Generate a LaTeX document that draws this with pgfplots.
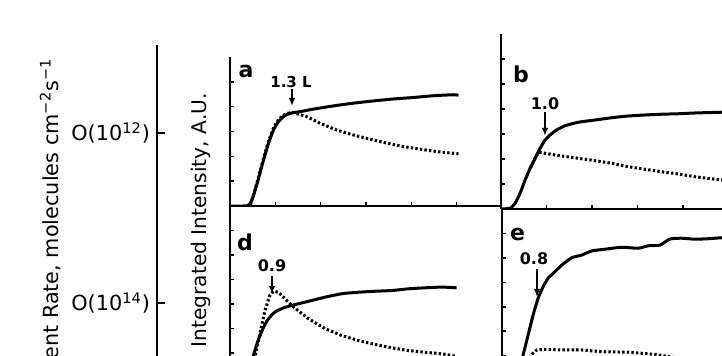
\documentclass[border=0pt]{standalone}
\usepackage{fontspec}
\setmainfont{DejaVu Sans}
\setsansfont{DejaVu Sans}
\usepackage{pgfplots}
\pgfplotsset{compat=1.18}
\usetikzlibrary{arrows.meta}
\pgfplotsset{
  panel/.style={scale only axis, anchor=south west, xmin=0, xmax=6, ymin=0,
    axis x line=bottom, axis y line=left, axis line style={-, line width=1.15pt},
    tick align=inside, major tick length=2pt, tick style={line width=0.8pt, black},
    xticklabels={}, yticklabels={}},
  solidc/.style={black, line width=1.5pt, smooth, tension=0.35, no marks},
  dotc/.style={black, line width=1.5pt, dash pattern=on 1.2pt off 1.1pt, no marks},
}
\begin{document}
\begin{tikzpicture}[x=1pt,y=1pt]
\useasboundingbox (0,0) rectangle (361,178);
\clip (0,0) rectangle (361,178);

% rate axis
\begin{axis}[scale only axis, width=1pt, height=180.5pt, at={(78.5pt,-25pt)}, anchor=south west,
  xmin=0, xmax=1, ymin=-50, ymax=311, axis x line=none, axis y line=left,
  axis line style={-, line width=1.3pt}, ytick={53,223},
  yticklabels={O(10\textsuperscript{14}),O(10\textsuperscript{12})},
  tick align=inside, major tick length=4pt, tick style={line width=1pt, black},
  yticklabel style={font=\fontsize{10.4}{12}\selectfont}]
\addplot[draw=none] coordinates {(0,0)};
\end{axis}

% panel a
\begin{axis}[panel, width=136pt, height=74.5pt, ymax=6, at={(115pt,75pt)},
  xtick={1,...,5}, ytick={1,...,5}]
\addplot[dotc] coordinates {(0.45,0.05) (0.51,0.40) (0.62,1.1) (0.74,1.92) (0.85,2.62) (0.96,3.15) (1.07,3.48) (1.18,3.66) (1.29,3.74) (1.40,3.76) (1.69,3.60) (1.99,3.33) (2.35,3.06) (2.72,2.86) (3.09,2.69) (3.46,2.53) (3.83,2.39) (4.19,2.29) (4.56,2.19) (5.04,2.10)};
\addplot[solidc] coordinates {(0,0) (0.40,0.02) (0.51,0.38) (0.62,1.05) (0.74,1.85) (0.85,2.53) (0.96,3.06) (1.07,3.40) (1.18,3.60) (1.29,3.71) (1.40,3.76) (1.55,3.80) (1.84,3.90) (2.28,4.03) (2.72,4.14) (3.16,4.23) (3.61,4.31) (4.05,4.37) (4.49,4.44) (4.93,4.48) (5.04,4.46)};
\end{axis}

% panel d
\begin{axis}[panel, width=136pt, height=85.75pt, ymax=7, at={(115pt,-10.75pt)},
  xtick={1,...,5}, ytick={1,...,6}]
\addplot[dotc] coordinates {(0.44,0) (0.55,0.86) (0.66,1.78) (0.77,2.73) (0.88,3.35) (0.96,3.52) (1.07,3.48) (1.36,2.94) (1.73,2.40) (2.10,1.99) (2.47,1.71) (2.83,1.51) (3.20,1.35) (3.57,1.21) (3.94,1.10) (4.30,1.03) (4.67,0.97) (5.00,0.86)};
\addplot[solidc] coordinates {(0,0) (0.38,0) (0.51,0.86) (0.62,1.51) (0.74,2.05) (0.85,2.40) (0.99,2.67) (1.18,2.84) (1.36,2.94) (1.73,3.11) (2.10,3.28) (2.47,3.42) (2.83,3.48) (3.20,3.52) (3.57,3.55) (3.94,3.62) (4.30,3.66) (4.67,3.69) (5.00,3.66)};
\end{axis}

% panel b
\begin{axis}[panel, width=136.5pt, height=87.5pt, ymax=7, at={(250.5pt,73.5pt)},
  xtick={1,...,6}, ytick={1,...,6}]
\addplot[dotc] coordinates {(0.64,1.63) (0.75,2.03) (0.82,2.25) (0.89,2.25) (1.33,2.12) (1.70,2.03) (2.07,1.93) (2.43,1.83) (2.80,1.69) (3.16,1.59) (3.53,1.49) (3.90,1.40) (4.26,1.29) (4.85,1.16) (5.2,1.10)};
\addplot[solidc] coordinates {(0,0) (0.20,0.03) (0.31,0.23) (0.42,0.63) (0.53,1.16) (0.64,1.63) (0.75,2.03) (0.86,2.43) (0.97,2.76) (1.08,2.96) (1.22,3.16) (1.41,3.33) (1.70,3.47) (2.07,3.56) (2.43,3.65) (2.80,3.72) (3.16,3.76) (3.53,3.79) (3.90,3.81) (4.26,3.84) (4.85,3.87) (5.2,3.88)};
\end{axis}

% panel e
\begin{axis}[panel, width=136.5pt, height=85.4pt, ymax=7, at={(250.85pt,-12pt)},
  xtick={1,...,6}, ytick={1,...,6}]
\addplot[dotc] coordinates {(0.45,0) (0.58,0.75) (0.66,1.05) (0.77,1.23) (0.95,1.26) (1.32,1.23) (1.76,1.23) (2.20,1.16) (2.78,1.14) (3.37,1.05) (3.8,0.92) (4.3,0.8) (4.85,0.7)};
\addplot[solidc] coordinates {(0,0) (0.33,0) (0.47,1.02) (0.58,1.84) (0.69,2.66) (0.80,3.35) (0.91,3.82) (1.02,4.17) (1.17,4.44) (1.32,4.71) (1.54,5.01) (1.76,5.12) (1.98,5.29) (2.27,5.36) (2.64,5.44) (3.00,5.40) (3.22,5.50) (3.48,5.53) (3.70,5.78) (3.96,5.81) (4.25,5.77) (4.54,5.79) (4.84,5.83) (5.2,5.83)};
\end{axis}

% axis titles
\node[rotate=90, anchor=base east, inner sep=0pt, font=\fontsize{10.4}{12}\selectfont] at (29,149)
  {Displacement Rate, molecules cm\textsuperscript{−2}s\textsuperscript{−1}};
\node[rotate=90, anchor=base east, inner sep=0pt, font=\fontsize{10.1}{12}\selectfont] at (103,131.5)
  {Integrated Intensity, A.U.};

% panel letters
\node[font=\fontsize{11}{13}\selectfont\bfseries] at (123,142) {a};
\node[font=\fontsize{11}{13}\selectfont\bfseries] at (260.5,141) {b};
\node[font=\fontsize{11}{13}\selectfont\bfseries] at (122.5,57) {d};
\node[font=\fontsize{11}{13}\selectfont\bfseries] at (258.75,60.5) {e};

% arrows
\tikzset{arr/.style={-{Latex[length=4pt,width=3.2pt]}, line width=0.8pt}}
\draw[arr] (146,133.5) -- (146,125);
\node[font=\fontsize{7.5}{9}\selectfont\bfseries] at (145.5,137) {1.3 L};
\draw[arr] (272.5,122) -- (272.5,110);
\node[font=\fontsize{8}{9}\selectfont\bfseries] at (272.5,126) {1.0};
\draw[arr] (136,40) -- (136,31);
\node[font=\fontsize{8}{9}\selectfont\bfseries] at (136,45) {0.9};
\draw[arr] (268.5,43.5) -- (268.5,29.5);
\node[font=\fontsize{8}{9}\selectfont\bfseries] at (267,48.5) {0.8};
\end{tikzpicture}
\end{document}
